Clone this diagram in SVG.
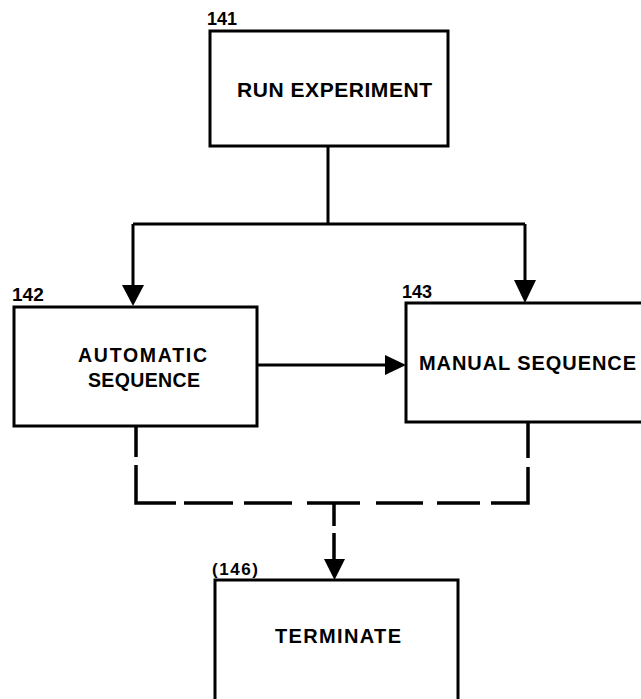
<svg xmlns="http://www.w3.org/2000/svg" width="641" height="699" viewBox="0 0 641 699">
<style>
.box{fill:#fff;stroke:#000;stroke-width:3}
.t{font-family:"Liberation Sans",Arial,Helvetica,sans-serif;font-weight:bold;font-size:20px;fill:#000}
.n{font-family:"Liberation Sans",Arial,Helvetica,sans-serif;font-weight:bold;font-size:18px;fill:#000}
.ln{fill:none;stroke:#000;stroke-width:3}
.dl{fill:none;stroke:#000;stroke-width:3.5}
.ah{fill:#000;stroke:none}
</style>
<rect width="641" height="699" fill="#fff"/>
<g id="connectors">
<path class="ln" d="M328 146 V224 M133 224 H525 M133 224 V287 M525 224 V282 M257 365 H388"/>
<polygon class="ah" points="122,285 144,285 133,306"/>
<polygon class="ah" points="514,280 536,280 525,303"/>
<polygon class="ah" points="385,355 385,375 406,365"/>
<path class="dl" d="M136 426 V457 M136 465 V503 H176 M184 503 H233 M244 503 H292 M307 503 H360 M376 503 H423 M437 503 H480 M491 503 H528 V467 M528 458 V422 M334 503 V526 M334 533 V562"/>
<polygon class="ah" points="324,559 345,559 334.5,580"/>
</g>
<g id="node141">
<rect class="box" x="210" y="31" width="238" height="115"/>
<text class="n" x="207" y="25" textLength="30" lengthAdjust="spacingAndGlyphs">141</text>
<text class="t" x="237" y="97" style="font-size:21px" textLength="195" lengthAdjust="spacing">RUN EXPERIMENT</text>
</g>
<g id="node142">
<rect class="box" x="14" y="307" width="243" height="119"/>
<text class="n" x="12" y="301" style="font-size:19px">142</text>
<text class="t" x="78" y="362" style="font-size:19.5px" textLength="129" lengthAdjust="spacing">AUTOMATIC</text>
<text class="t" x="88" y="387" style="font-size:19.5px" textLength="112" lengthAdjust="spacing">SEQUENCE</text>
</g>
<g id="node143">
<rect class="box" x="406" y="303" width="250" height="119"/>
<text class="n" x="402" y="298">143</text>
<text class="t" x="419" y="370" textLength="217" lengthAdjust="spacing">MANUAL SEQUENCE</text>
</g>
<g id="node146">
<rect class="box" x="215" y="580" width="243" height="130"/>
<text class="n" x="212" y="575" style="font-size:17px" textLength="46" lengthAdjust="spacing">(146)</text>
<text class="t" x="275" y="643" textLength="126" lengthAdjust="spacing">TERMINATE</text>
</g>
</svg>
